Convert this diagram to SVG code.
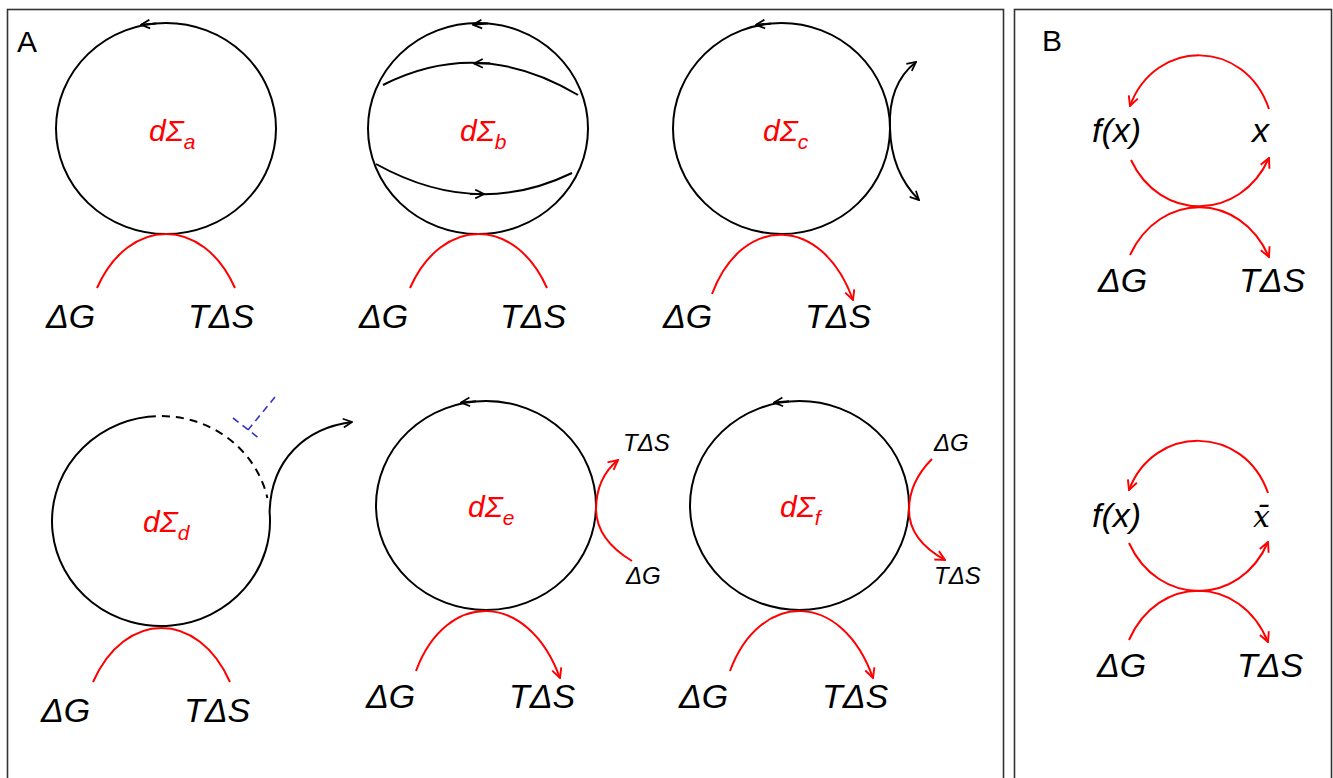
<svg xmlns="http://www.w3.org/2000/svg" width="1333" height="778" viewBox="0 0 1333 778">
<style>
.frame{fill:none;stroke:#333;stroke-width:1.6}
.c{fill:none;stroke:#000;stroke-width:2}
.r{fill:none;stroke:#f00;stroke-width:2}
.k{fill:none;stroke:#000;stroke-width:2}
.blue{fill:none;stroke:#3333cc;stroke-width:1.6;stroke-dasharray:7,5}
.dash{fill:none;stroke:#000;stroke-width:2;stroke-dasharray:8,6}
.t{font-family:"Liberation Sans",Arial,sans-serif;font-style:italic;font-size:34px;fill:#000}
.ts{font-family:"Liberation Sans",Arial,sans-serif;font-style:italic;font-size:24px;fill:#000}
.p{font-family:"Liberation Sans",Arial,sans-serif;font-size:30px;fill:#000}
.lbl{font-family:"Liberation Sans",Arial,sans-serif;font-style:italic;font-size:30px;fill:#f00}
.sub{font-size:21px}
.xbar{font-family:"DejaVu Serif","Liberation Serif",serif;font-style:italic;font-size:30px;fill:#000}
</style>
<defs>
<marker id="ak" viewBox="0 0 10 10" refX="9" refY="5" markerWidth="11" markerHeight="11" markerUnits="userSpaceOnUse" orient="auto"><path d="M1,1 L9,5 L1,9" fill="none" stroke="#000" stroke-width="1.6"/></marker>
<marker id="ar" viewBox="0 0 10 10" refX="9" refY="5" markerWidth="12" markerHeight="12" markerUnits="userSpaceOnUse" orient="auto"><path d="M1,1 L9,5 L1,9" fill="none" stroke="#f00" stroke-width="1.6"/></marker>
</defs>
<rect class="frame" x="7.5" y="9.5" width="996" height="800"/>
<rect class="frame" x="1014.5" y="9.5" width="317" height="800"/>
<text class="p" x="17" y="52">A</text>
<text class="p" x="1042" y="51">B</text>

<g id="node-a">
<ellipse class="c" cx="166" cy="128.5" rx="110" ry="105.5"/>
<text class="lbl" x="149" y="141">dΣ<tspan class="sub" dy="8">a</tspan></text>
<text class="t" x="46" y="328">ΔG</text>
<text class="t" x="188" y="328">TΔS</text>
</g>
<g id="node-b">
<ellipse class="c" cx="478" cy="128.5" rx="110" ry="105.5"/>
<text class="lbl" x="460" y="141">dΣ<tspan class="sub" dy="8">b</tspan></text>
<text class="t" x="359" y="328">ΔG</text>
<text class="t" x="500" y="328">TΔS</text>
</g>
<g id="node-c">
<ellipse class="c" cx="781.5" cy="128.5" rx="108.5" ry="105.5"/>
<text class="lbl" x="763" y="141">dΣ<tspan class="sub" dy="8">c</tspan></text>
<text class="t" x="663" y="328">ΔG</text>
<text class="t" x="805" y="328">TΔS</text>
</g>
<g id="node-d">
<path class="c" d="M148,416.8 A109 105 0 1 0 269.6,512"/>
<path class="dash" d="M148,416.8 A109 105 0 0 1 267.4,498"/>
<text class="lbl" x="143" y="532">dΣ<tspan class="sub" dy="8">d</tspan></text>
<text class="t" x="41" y="722">ΔG</text>
<text class="t" x="184" y="722">TΔS</text>
</g>
<g id="node-e">
<ellipse class="c" cx="486" cy="505.5" rx="110" ry="104.5"/>
<text class="lbl" x="468" y="517">dΣ<tspan class="sub" dy="8">e</tspan></text>
<text class="t" x="366" y="708">ΔG</text>
<text class="t" x="509" y="708">TΔS</text>
<text class="ts" x="623" y="451">TΔS</text>
<text class="ts" x="626" y="584">ΔG</text>
</g>
<g id="node-f">
<ellipse class="c" cx="799.5" cy="505.5" rx="109.5" ry="104.5"/>
<text class="lbl" x="780" y="517">dΣ<tspan class="sub" dy="8">f</tspan></text>
<text class="t" x="679" y="708">ΔG</text>
<text class="t" x="822" y="708">TΔS</text>
<text class="ts" x="934" y="451">ΔG</text>
<text class="ts" x="934" y="584">TΔS</text>
</g>
<g id="node-B1">
<text class="t" x="1092" y="142">f(x)</text>
<text class="t" x="1252" y="142">x</text>
<text class="t" x="1098" y="292">ΔG</text>
<text class="t" x="1239" y="292">TΔS</text>
</g>
<g id="node-B2">
<text class="t" x="1092" y="527">f(x)</text>
<text class="xbar" x="1253" y="527">x̄</text>
<text class="t" x="1097" y="677">ΔG</text>
<text class="t" x="1237" y="677">TΔS</text>
</g>

<g id="connectors">
<path class="k" marker-end="url(#ak)" d="M156,23.5 L141,24.8"/>
<path class="k" marker-end="url(#ak)" d="M488,23.5 L473,24.8"/>
<path class="k" marker-end="url(#ak)" d="M771,23.5 L756,24.8"/>
<path class="k" marker-end="url(#ak)" d="M476,401.3 L461,402.6"/>
<path class="k" marker-end="url(#ak)" d="M789,401.3 L774,402.6"/>
<path class="k" d="M383,85 Q479.5,36 578,95"/>
<path class="k" marker-end="url(#ak)" d="M490,63.3 L474,63.5"/>
<path class="k" d="M376,164 Q476,219.5 572,173"/>
<path class="k" marker-end="url(#ak)" d="M470,194 L484,194"/>
<path class="k" marker-end="url(#ak)" d="M890,128 Q888,84 916,62"/>
<path class="k" marker-end="url(#ak)" d="M890,128 Q891,172 919,200"/>
<path class="k" marker-end="url(#ak)" d="M269.6,512 C271,460 305,428 352,422"/>
<path class="blue" d="M275,397 L248,430"/>
<path class="blue" d="M233,418 L260,439"/>
<path class="r" d="M97,288 C129,216 203,216 235,288"/>
<path class="r" d="M410,288 C442,216 515,216 547,288"/>
<path class="r" marker-end="url(#ar)" d="M712,294 C742,214 822,214 853,300"/>
<path class="r" d="M93,682 C125,610 198,610 230,682"/>
<path class="r" marker-end="url(#ar)" d="M416,671 C446,590 528,590 560,678"/>
<path class="r" marker-end="url(#ar)" d="M730,671 C760,590 842,590 873,678"/>
<path class="r" marker-end="url(#ar)" d="M632,561 Q597,540 596,510 Q596,478 618,460"/>
<path class="r" marker-end="url(#ar)" d="M932,459 Q909,482 909,510 Q909,540 945,560"/>
<path class="r" marker-end="url(#ar)" d="M1269,109 C1245,38 1155,38 1130,106"/>
<path class="r" marker-end="url(#ar)" d="M1131,160 C1160,222 1240,222 1269,158"/>
<path class="r" marker-end="url(#ar)" d="M1130,255 C1160,191 1240,191 1269,257"/>
<path class="r" marker-end="url(#ar)" d="M1268,493 C1244,424 1154,424 1129,490"/>
<path class="r" marker-end="url(#ar)" d="M1129,543 C1158,607 1240,607 1268,542"/>
<path class="r" marker-end="url(#ar)" d="M1129,640 C1158,574 1240,574 1268,642"/>
</g>
</svg>
